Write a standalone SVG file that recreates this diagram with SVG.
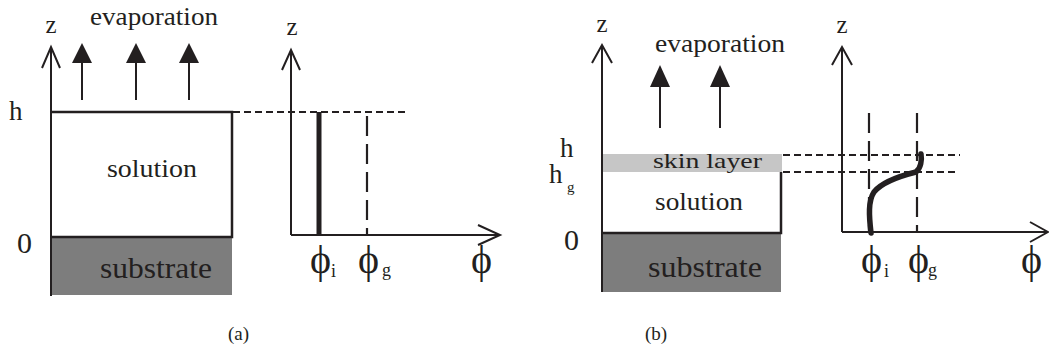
<svg xmlns="http://www.w3.org/2000/svg" width="1049" height="350" viewBox="0 0 1049 350">
<style>
.t{fill:#231f20}
.ln{stroke:#231f20;stroke-width:2.5;fill:none}
.ax{stroke:#231f20;stroke-width:2;fill:none}
.dh{stroke:#231f20;stroke-width:2;fill:none;stroke-dasharray:7 4}
.dv{stroke:#231f20;stroke-width:2.2;fill:none;stroke-dasharray:20 8}
.hd{fill:#231f20}
.sub{fill:#7d7d7d}
.skin{fill:#c6c6c6}
</style>
<rect width="1049" height="350" fill="#fff"/>

<!-- Panel (a) -->
<g id="a-film">
  <rect class="sub" x="51" y="237" width="181" height="58"/>
  <polyline class="ln" points="51,112 232,112 232,237 51,237"/>
  <text class="t" font-family="Liberation Serif" x="107" y="177" font-size="25" textLength="90" lengthAdjust="spacingAndGlyphs">solution</text>
  <text class="t" font-family="Liberation Serif" x="100" y="278" font-size="30" textLength="112" lengthAdjust="spacingAndGlyphs">substrate</text>
  <text class="t" font-family="Liberation Serif" x="9" y="120" font-size="27">h</text>
  <text class="t" font-family="Liberation Serif" x="17" y="253" font-size="30">0</text>
</g>
<g id="a-axis-z">
  <line class="ax" x1="51" y1="47" x2="51" y2="296"/>
  <polyline class="ax" points="42,68 51,47 60,68"/>
  <text class="t" font-family="Liberation Serif" x="51" y="33" font-size="25" text-anchor="middle">z</text>
</g>
<g id="a-evaporation">
  <text class="t" font-family="Liberation Serif" x="90" y="25" font-size="26" textLength="128" lengthAdjust="spacingAndGlyphs">evaporation</text>
  <line class="ax" x1="82" y1="100" x2="82" y2="60"/>
  <polygon class="hd" points="72,63 82,43 92,63"/>
  <line class="ax" x1="136" y1="100" x2="136" y2="60"/>
  <polygon class="hd" points="126,63 136,43 146,63"/>
  <line class="ax" x1="189" y1="100" x2="189" y2="60"/>
  <polygon class="hd" points="179,63 189,43 199,63"/>
</g>
<g id="a-plot">
  <line class="ax" x1="291" y1="50" x2="291" y2="235"/>
  <polyline class="ax" points="282,70 291,50 300,70"/>
  <text class="t" font-family="Liberation Serif" x="292" y="35" font-size="25" text-anchor="middle">z</text>
  <line class="ax" x1="291" y1="235" x2="500" y2="235"/>
  <polyline class="ax" points="478,225 500,235 478,245"/>
  <text class="t" font-family="Liberation Serif" font-size="40" x="310" y="273">ϕ</text>
  <text class="t" font-family="Liberation Serif" font-size="18" x="331" y="277">i</text>
  <text class="t" font-family="Liberation Serif" font-size="40" x="358" y="273">ϕ</text>
  <text class="t" font-family="Liberation Serif" font-size="18" x="382" y="276">g</text>
  <text class="t" font-family="Liberation Serif" font-size="40" x="471" y="273">ϕ</text>
</g>
<g id="connectors">
  <line class="dh" x1="233" y1="112" x2="408" y2="112"/>
  <line stroke="#231f20" stroke-width="5" x1="319" y1="112" x2="319" y2="235"/>
  <line class="dv" x1="367" y1="116" x2="367" y2="235"/>
  <line class="dh" x1="783" y1="155" x2="960" y2="155"/>
  <line class="dh" x1="783" y1="172" x2="957" y2="172"/>
  <line class="dv" x1="869" y1="113" x2="869" y2="232"/>
  <line class="dv" x1="917" y1="113" x2="917" y2="232"/>
  <path d="M871,233 C869,216 868,201 874,192 C882,182 900,176 916,172 C921,168 922,160 921,154" stroke="#231f20" stroke-width="5.5" fill="none" stroke-linecap="round"/>
</g>

<!-- Panel (b) -->
<g id="b-film">
  <rect class="sub" x="602" y="233" width="179" height="59"/>
  <rect class="skin" x="602" y="154" width="180" height="18"/>
  <polyline class="ln" points="781,172 781,233 602,233"/>
  <text class="t" font-family="Liberation Serif" x="653" y="168" font-size="22" textLength="109" lengthAdjust="spacingAndGlyphs">skin layer</text>
  <text class="t" font-family="Liberation Serif" x="655" y="210" font-size="25" textLength="88" lengthAdjust="spacingAndGlyphs">solution</text>
  <text class="t" font-family="Liberation Serif" x="648" y="277" font-size="30" textLength="114" lengthAdjust="spacingAndGlyphs">substrate</text>
  <text class="t" font-family="Liberation Serif" x="560" y="157" font-size="27">h</text>
  <text class="t" font-family="Liberation Serif" x="549" y="183" font-size="27">h</text>
  <text class="t" font-family="Liberation Serif" x="567" y="192" font-size="15">g</text>
  <text class="t" font-family="Liberation Serif" x="564" y="250" font-size="30">0</text>
</g>
<g id="b-axis-z">
  <line class="ax" x1="602" y1="45" x2="602" y2="292"/>
  <polyline class="ax" points="592,63 602,45 612,63"/>
  <text class="t" font-family="Liberation Serif" x="602" y="32" font-size="25" text-anchor="middle">z</text>
</g>
<g id="b-evaporation">
  <text class="t" font-family="Liberation Serif" x="655" y="52" font-size="26" textLength="130" lengthAdjust="spacingAndGlyphs">evaporation</text>
  <line class="ax" x1="660" y1="128" x2="660" y2="84"/>
  <polygon class="hd" points="650,87 660,65 670,87"/>
  <line class="ax" x1="720" y1="128" x2="720" y2="84"/>
  <polygon class="hd" points="710,87 720,65 730,87"/>
</g>
<g id="b-plot">
  <line class="ax" x1="842" y1="47" x2="842" y2="232"/>
  <polyline class="ax" points="832,65 842,47 852,65"/>
  <text class="t" font-family="Liberation Serif" x="842" y="33" font-size="25" text-anchor="middle">z</text>
  <line class="ax" x1="842" y1="232" x2="1048" y2="232"/>
  <polyline class="ax" points="1030,222 1048,232 1030,242"/>
  <text class="t" font-family="Liberation Serif" font-size="40" x="861" y="273">ϕ</text>
  <text class="t" font-family="Liberation Serif" font-size="18" x="884" y="277">i</text>
  <text class="t" font-family="Liberation Serif" font-size="40" x="908" y="273">ϕ</text>
  <text class="t" font-family="Liberation Serif" font-size="18" x="928" y="276">g</text>
  <text class="t" font-family="Liberation Serif" font-size="40" x="1021" y="273">ϕ</text>
</g>

<g id="captions">
  <text class="t" font-family="Liberation Serif" x="228" y="340" font-size="19">(a)</text>
  <text class="t" font-family="Liberation Serif" x="645" y="340" font-size="19">(b)</text>
</g>
</svg>
